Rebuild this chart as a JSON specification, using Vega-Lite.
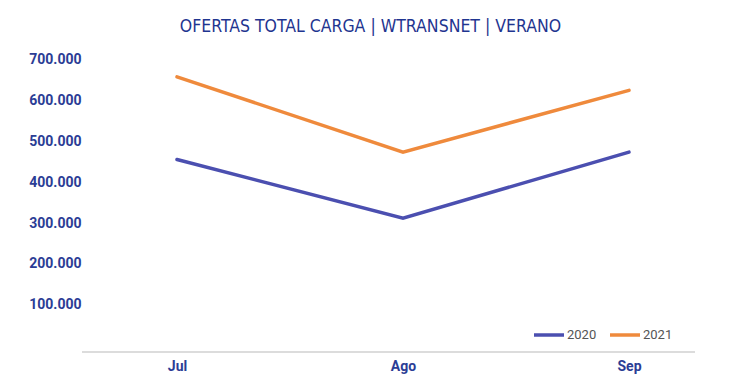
{
  "$schema": "https://vega.github.io/schema/vega-lite/v6.json",
  "width": 613,
  "height": 301,
  "autosize": {"type": "none"},
  "padding": {"left": 82, "top": 51, "right": 46, "bottom": 26},
  "background": "white",
  "title": {
    "text": "OFERTAS TOTAL CARGA | WTRANSNET | VERANO",
    "font": "DejaVu Sans Condensed, sans-serif",
    "fontSize": 17.5,
    "fontWeight": "normal",
    "color": "#1f3590",
    "anchor": "middle",
    "dx": -18,
    "offset": 16
  },
  "data": {
    "values": [
      {"mes": "Jul", "anio": "2020", "ofertas": 455000},
      {"mes": "Ago", "anio": "2020", "ofertas": 312000},
      {"mes": "Sep", "anio": "2020", "ofertas": 473000},
      {"mes": "Jul", "anio": "2021", "ofertas": 657000},
      {"mes": "Ago", "anio": "2021", "ofertas": 473000},
      {"mes": "Sep", "anio": "2021", "ofertas": 624000}
    ]
  },
  "layer": [
    {
      "mark": {"type": "rule", "color": "#dcdcdc", "strokeWidth": 2},
      "encoding": {"y": {"datum": -15000, "type": "quantitative"}}
    },
    {
      "mark": {"type": "line", "strokeWidth": 3.5, "strokeCap": "round"},
      "encoding": {
        "x": {
          "field": "mes",
          "type": "ordinal",
          "sort": ["Jul", "Ago", "Sep"],
          "scale": {"type": "point", "range": [95, 547], "padding": 0},
          "axis": {
            "title": null,
            "domain": false,
            "ticks": false,
            "labelAngle": 0,
            "labelPadding": 7,
            "labelFont": "Roboto",
            "labelFontSize": 14,
            "labelFontWeight": "bold",
            "labelColor": "#2b3d95"
          }
        },
        "y": {
          "field": "ofertas",
          "type": "quantitative",
          "scale": {"domain": [-15000, 720000], "nice": false, "zero": false},
          "axis": {
            "title": null,
            "domain": false,
            "ticks": false,
            "grid": false,
            "values": [100000, 200000, 300000, 400000, 500000, 600000, 700000],
            "labelExpr": "format(datum.value / 1000, 'd') + '.000'",
            "labelPadding": 1,
            "labelFont": "Roboto",
            "labelFontSize": 14,
            "labelFontWeight": "bold",
            "labelColor": "#2b3d95"
          }
        },
        "color": {
          "field": "anio",
          "type": "nominal",
          "scale": {"domain": ["2020", "2021"], "range": ["#4b4fb0", "#ef8a3c"]},
          "legend": {
            "title": null,
            "orient": "none",
            "direction": "horizontal",
            "legendX": 450,
            "legendY": 267,
            "symbolType": "stroke",
            "symbolSize": 900,
            "symbolStrokeWidth": 3.5,
            "symbolOffset": 0,
            "labelFont": "Roboto",
            "labelFontSize": 13,
            "labelColor": "#555555",
            "labelOffset": 1,
            "columnPadding": 6
          }
        }
      }
    }
  ],
  "config": {"view": {"stroke": null}}
}
